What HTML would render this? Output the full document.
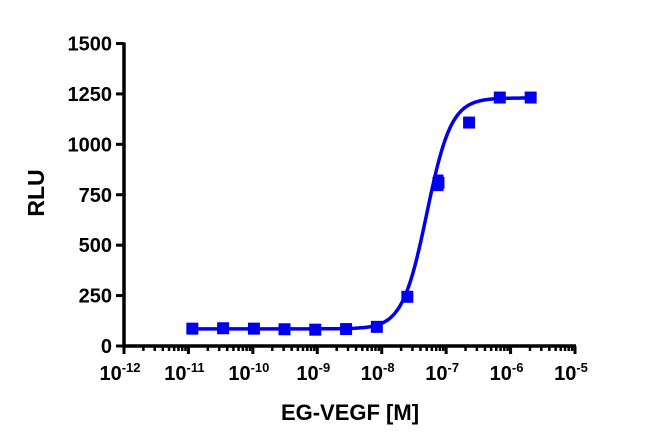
<!DOCTYPE html>
<html><head><meta charset="utf-8"><style>
body{margin:0;background:#fff;}
svg{display:block;font-family:"Liberation Sans",Arial,sans-serif;font-weight:bold;}
</style></head><body>
<svg id="chart" width="650" height="442" viewBox="0 0 650 442" xmlns="http://www.w3.org/2000/svg">
<g id="axes"></g><g id="series"></g>
<text x="0" y="0" transform="translate(44,193) rotate(-90)" text-anchor="middle" font-size="23">RLU</text>
<text x="350" y="420" text-anchor="middle" font-size="22">EG-VEGF [M]</text>
</svg>
<script>
const concentrations=[1.15e-11,3.45e-11,1.04e-10,3.1e-10,9.3e-10,2.8e-9,8.4e-9,2.5e-8,7.6e-8,2.27e-7,6.8e-7,2.05e-6];
const rluValues=[86,88,86,83,81,84,95,244,809,1108,1232,1232];
const rluErrors=[0,0,0,0,0,0,0,0,35,18,0,0];
const yTicks=[0,250,500,750,1000,1250,1500];
const xExponents=[-12,-11,-10,-9,-8,-7,-6,-5];
const fitParams=[85,1230,-7.30,2.3]; // bottom, top, logEC50, hill

const X0=124,X1=575,Y0=346,Y1=43.5;
const lx=(l)=>X0+(l+12)/7*(X1-X0);
const xs=(v)=>lx(Math.log10(v));
const ys=(v)=>Y0-v/1500*(Y0-Y1);
const NS="http://www.w3.org/2000/svg";
function mk(tag,attrs,parent){const e=document.createElementNS(NS,tag);for(const k in attrs)e.setAttribute(k,attrs[k]);parent.appendChild(e);return e;}
const axesG=document.getElementById('axes'),seriesG=document.getElementById('series');

const ya=mk('line',{x1:X0,y1:Y1-1,x2:X0,y2:Y0+1.5,stroke:'#000','stroke-width':3.5},axesG);


const xa=mk('line',{x1:X0-1.5,y1:Y0,x2:X1+1,y2:Y0,stroke:'#000','stroke-width':3.5},axesG);



yTicks.forEach(v=>{
  const y=ys(v);
  const t=mk('line',{x1:X0-8,y1:y,x2:X0,y2:y,stroke:'#000','stroke-width':3},axesG);
  
  
  const l=mk('text',{x:X0-12,y:y+7,'text-anchor':'end','font-size':20},axesG);
  
  
  l.textContent=v;
});
xExponents.forEach((e,i)=>{
  const x=lx(e);
  const t=mk('line',{x1:x,y1:Y0,x2:x,y2:Y0+8,stroke:'#000','stroke-width':3},axesG);
  
  
  if(i<xExponents.length-1){for(let m=2;m<10;m++){const mx=lx(e+Math.log10(m));
    const mt=mk('line',{x1:mx,y1:Y0,x2:mx,y2:Y0+5,stroke:'#000','stroke-width':2.5},axesG);
    
    }}
  const l=mk('text',{x:x-4,y:380,'text-anchor':'middle','font-size':20},axesG);
  
  
  l.textContent='10';
  const s=mk('tspan',{'font-size':13,dy:-8},l);s.textContent=String(e);
});

const fitBottom=fitParams[0],fitTop=fitParams[1],fitEc=fitParams[2],fitHill=fitParams[3];
let d='';const la=Math.log10(concentrations[0]),lb=Math.log10(concentrations[concentrations.length-1]);
for(let i=0;i<=200;i++){const l=la+(lb-la)*i/200;const v=fitBottom+(fitTop-fitBottom)/(1+Math.pow(10,(fitEc-l)*fitHill));d+=(i?'L':'M')+lx(l).toFixed(2)+','+ys(v).toFixed(2);}
const c=mk('path',{d:d,fill:'none',stroke:'#0000ee','stroke-width':3.5},seriesG);



concentrations.forEach((cv,i)=>{
  const x=xs(cv),y=ys(rluValues[i]);
  if(rluErrors[i]>0){const eh=rluErrors[i];
    const eb=mk('path',{d:`M${x},${ys(rluValues[i]+eh)}V${ys(rluValues[i]-eh)}M${x-5},${ys(rluValues[i]+eh)}H${x+5}M${x-5},${ys(rluValues[i]-eh)}H${x+5}`,stroke:'#0000ee','stroke-width':2.5,fill:'none'},seriesG);
    
    }
  const r=mk('rect',{x:x-6,y:y-6,width:12,height:12,fill:'#0000ee'},seriesG);
  
  
});
</script>
</body></html>
